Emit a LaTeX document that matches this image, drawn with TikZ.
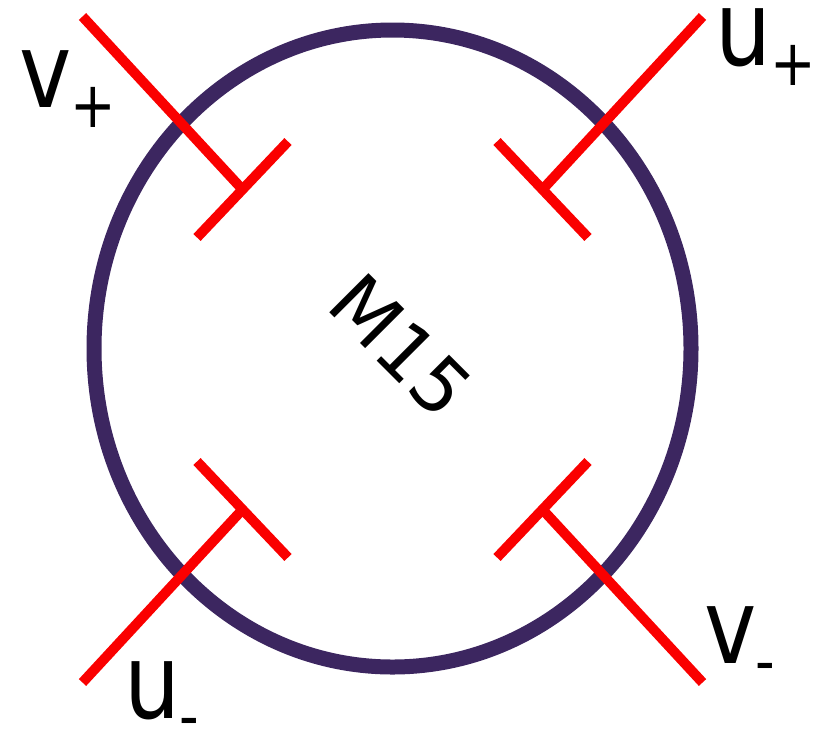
\documentclass[tikz,border=0pt]{standalone}
\usepackage{fontspec}
\setmainfont{DejaVu Sans}
\usepackage{graphicx}
\usetikzlibrary{shapes.geometric}
\definecolor{ringcol}{RGB}{60,38,96}
\definecolor{pinred}{RGB}{250,0,0}
\newcommand{\bigf}{\fontsize{104}{110}\selectfont}
\newcommand{\subf}{\fontsize{64}{70}\selectfont}
\newcommand{\lab}[2]{\scalebox{0.85}[1]{\bigf #1\kern-2pt\raisebox{-20pt}{\subf #2}}}
\begin{document}
\begin{tikzpicture}[x=1pt,y=-1pt,
  pinline/.style={draw=pinred,line width=10pt,line cap=butt},
  lbl/.style={inner sep=0pt,anchor=base west,text=black}]
\useasboundingbox (0,0) rectangle (818,729);
\node[draw=ringcol, line width=15pt, ellipse, minimum width=597pt, minimum height=637pt, inner sep=0pt] (ring) at (392.5,348.5) {};
% top left
\coordinate (tlA) at (82.5,16.5);
\coordinate (tlJ) at (242.5,189.5);
\coordinate (tlB1) at (197,237.5);
\coordinate (tlB2) at (288,141.5);
% top right
\coordinate (trA) at (702.5,16.5);
\coordinate (trJ) at (542.5,189.5);
\coordinate (trB1) at (497,141.5);
\coordinate (trB2) at (588,237.5);
% bottom left
\coordinate (blA) at (82.5,682.5);
\coordinate (blJ) at (242.5,509.5);
\coordinate (blB1) at (197,461.5);
\coordinate (blB2) at (288,557.5);
% bottom right
\coordinate (brA) at (702.5,682.5);
\coordinate (brJ) at (542.5,509.5);
\coordinate (brB1) at (497,557.5);
\coordinate (brB2) at (588,461.5);
\foreach \q in {tl,tr,bl,br}{
  \draw[pinline] (\q A) -- (\q J);
  \draw[pinline] (\q B1) -- (\q B2);
}
\node[lbl] (vplus) at (19.4,107) {\lab{v}{+}};
\node[lbl] (uplus) at (715.5,65) {\lab{u}{+}};
\node[lbl] (uminus) at (124.5,718) {\lab{u}{-}};
\node[lbl] (vminus) at (704.4,663) {\lab{v}{-}};
\node[rotate=-45, inner sep=0pt, font=\fontsize{76}{80}\selectfont] (name) at (401,346) {M15};
\end{tikzpicture}
\end{document}
